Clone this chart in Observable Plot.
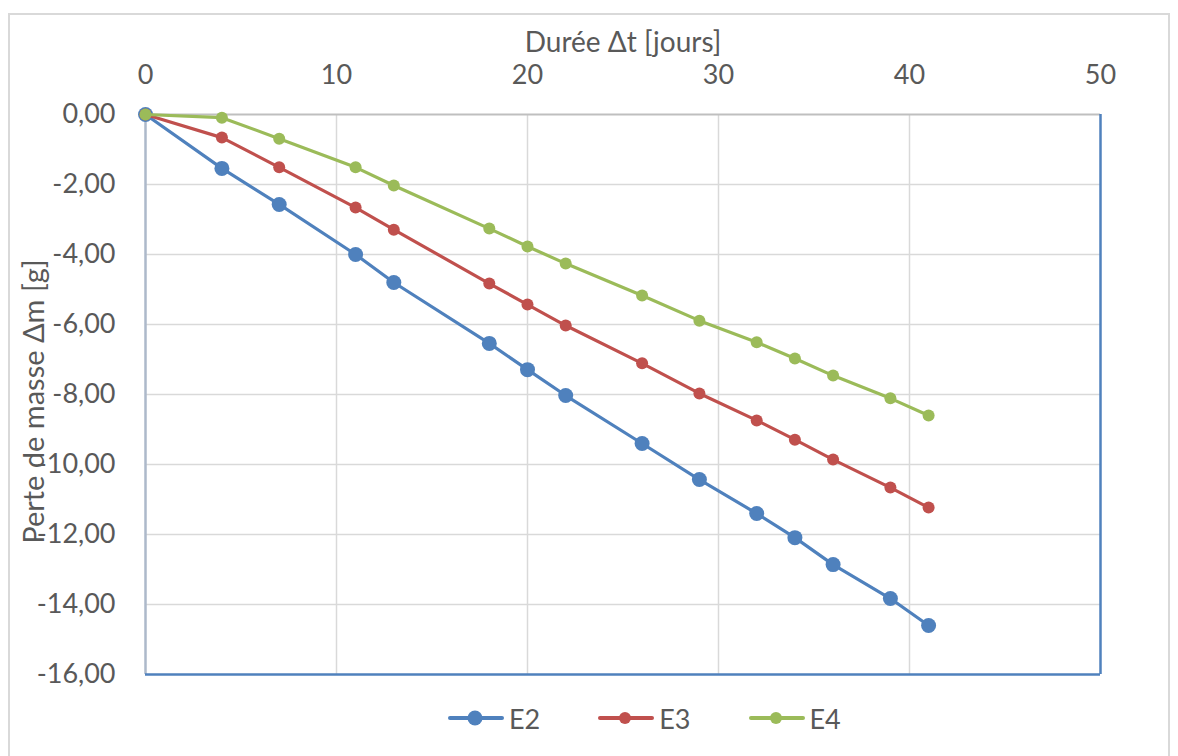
<!DOCTYPE html>
<html><head><meta charset="utf-8">
<script src="https://cdn.jsdelivr.net/npm/d3@7"></script>
<script src="https://cdn.jsdelivr.net/npm/@observablehq/plot@0.6"></script>
<style>
body{margin:0;background:#fff;font-family:Lato,"Open Sans",sans-serif;}
#wrap{position:relative;width:1178px;height:756px;overflow:hidden;}
#border{position:absolute;left:8px;top:13px;width:1162px;height:780px;border:2px solid #d9d9d9;box-sizing:border-box;}
#chart{position:absolute;left:0;top:0;}
#legend{position:absolute;left:448px;top:700px;height:36px;display:flex;align-items:center;gap:58px;font-size:27px;color:#595959;}
.item{display:flex;align-items:center;}
.item svg{margin-right:5px;}
</style></head>
<body><div id="wrap"><div id="border"></div><div id="chart"></div><div id="legend"></div></div>
<script>
const days = [0, 4, 7, 11, 13, 18, 20, 22, 26, 29, 32, 34, 36, 39, 41];
const E2 = [0, -1.54, -2.57, -4.00, -4.80, -6.54, -7.29, -8.03, -9.40, -10.43, -11.40, -12.09, -12.86, -13.83, -14.60];
const E3 = [0, -0.66, -1.51, -2.66, -3.29, -4.83, -5.43, -6.03, -7.11, -7.97, -8.74, -9.29, -9.86, -10.66, -11.23];
const E4 = [0, -0.09, -0.69, -1.51, -2.03, -3.26, -3.77, -4.26, -5.17, -5.89, -6.51, -6.97, -7.46, -8.11, -8.60];
const seriesNames = ["E2", "E3", "E4"];
const xTicks = [0, 10, 20, 30, 40, 50];
const yTicks = [0, -2, -4, -6, -8, -10, -12, -14, -16];
const xLabel = "Durée Δt [jours]";
const yLabel = "Perte de masse Δm [g]";

const seriesValues = {E2, E3, E4};
const colors = {E2: "#4f81bd", E3: "#c0504d", E4: "#9bbb59"};
const radii = {E2: 7.5, E3: 6, E4: 6};
const textColor = "#595959";
const fmt = d => d.toFixed(2).replace(".", ",");

const seriesMarks = seriesNames.flatMap(name => {
  const rows = days.map((d, i) => ({day: d, loss: seriesValues[name][i]}));
  return [
    Plot.line(rows, {x: "day", y: "loss", stroke: colors[name], strokeWidth: 3.2}),
    Plot.dot(rows, {x: "day", y: "loss", fill: colors[name], r: radii[name]})
  ];
});

const plot = Plot.plot({
  width: 1178, height: 700,
  marginLeft: 145, marginRight: 78, marginTop: 114, marginBottom: 26,
  style: {fontFamily: "Lato, 'Open Sans', sans-serif", fontSize: "27px", color: textColor, background: "transparent", overflow: "visible"},
  x: {domain: [0, 50]},
  y: {domain: [-16, 0]},
  marks: [
    Plot.gridX(xTicks.filter(t => t > 0 && t < 50), {stroke: "#d9d9d9", strokeOpacity: 1, strokeWidth: 1.5}),
    Plot.gridY(yTicks.filter(t => t < 0 && t > -16), {stroke: "#d9d9d9", strokeOpacity: 1, strokeWidth: 1.5}),
    Plot.ruleY([0], {stroke: "#bfbfbf", strokeWidth: 2}),
    Plot.ruleX([0], {stroke: "#adb9ca", strokeWidth: 2.5}),
    Plot.ruleY([-16], {stroke: "#4f81bd", strokeWidth: 2.5}),
    Plot.ruleX([50], {stroke: "#4f81bd", strokeWidth: 2.5}),
    Plot.axisX({anchor: "top", ticks: xTicks, tickSize: 0, tickPadding: 31, label: null, fill: textColor, fontSize: 27}),
    Plot.axisY({anchor: "left", ticks: yTicks, tickSize: 0, tickPadding: 30, tickFormat: fmt, label: null, fill: textColor, fontSize: 27}),
    Plot.text([xLabel], {frameAnchor: "top", lineAnchor: "middle", dy: -71, fill: textColor, fontSize: 28}),
    Plot.text([yLabel], {frameAnchor: "left", textAnchor: "middle", lineAnchor: "middle", dx: -111, dy: 7, rotate: -90, fill: textColor, fontSize: 29}),
    ...seriesMarks
  ]
});
document.getElementById("chart").appendChild(plot);

const legend = document.getElementById("legend");
for (const name of seriesNames) {
  const item = document.createElement("div");
  item.className = "item";
  item.innerHTML = `<svg width="56" height="20"><line x1="2" y1="10" x2="54" y2="10" stroke="${colors[name]}" stroke-width="4" stroke-linecap="round"/><circle cx="27" cy="10" r="${radii[name]}" fill="${colors[name]}"/></svg><span>${name}</span>`;
  legend.appendChild(item);
}
</script></body></html>
